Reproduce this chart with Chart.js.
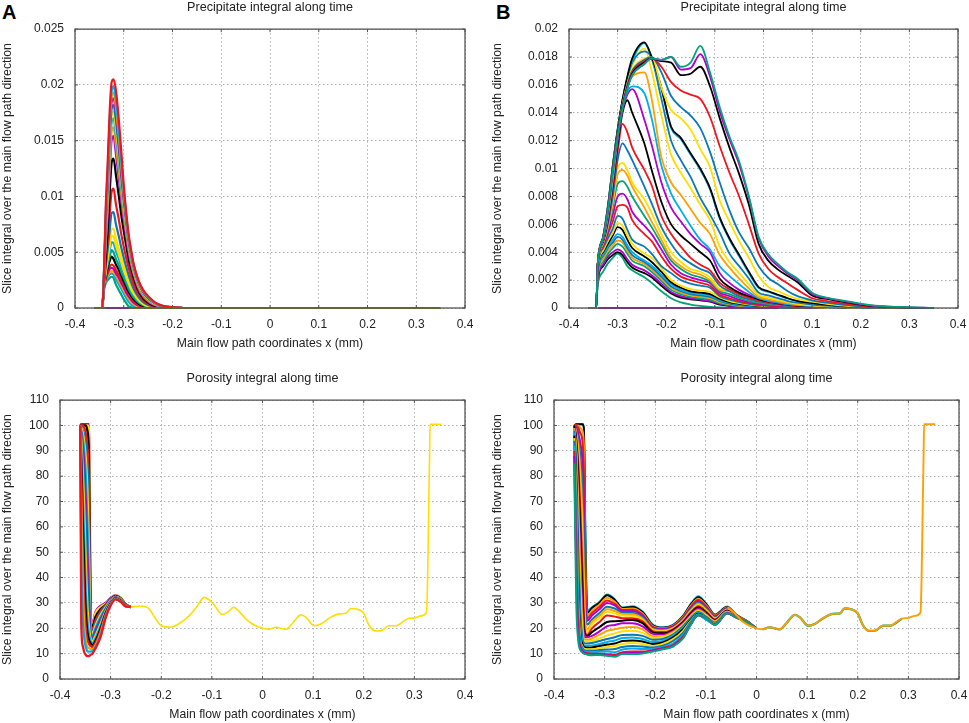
<!DOCTYPE html>
<html lang="en">
<head>
<meta charset="UTF-8">
<title>Precipitate and porosity integral along time</title>
<script src="https://cdn.jsdelivr.net/npm/chart.js@4"></script>
<style>
    html, body { margin: 0; padding: 0; background: #fff; }
    body { position: relative; width: 969px; height: 723px; overflow: hidden; }
    canvas { position: absolute; display: block; }
    .letter { position: absolute; top: 1px; font: bold 20px "Liberation Sans", sans-serif; color: #000; }
</style>
</head>
<body>
<div class="letter" style="left:2px">A</div>
<div class="letter" style="left:496px">B</div>
<canvas id="precA" width="484" height="351" style="left:0;top:0"></canvas>
<canvas id="precB" width="479" height="351" style="left:490px;top:0"></canvas>
<canvas id="poroA" width="484" height="351" style="left:0;top:371px"></canvas>
<canvas id="poroB" width="479" height="351" style="left:490px;top:371px"></canvas>
<script>
// axis ticks
const xTicks = [-0.4, -0.3, -0.2, -0.1, 0, 0.1, 0.2, 0.3, 0.4];
const yTicksPrecA = [0, 0.005, 0.01, 0.015, 0.02, 0.025];
const yTicksPrecB = [0, 0.002, 0.004, 0.006, 0.008, 0.01, 0.012, 0.014, 0.016, 0.018, 0.02];
const yTicksPoro = [0, 10, 20, 30, 40, 50, 60, 70, 80, 90, 100, 110];

// precipitate values are written in thousandths
const milli = 0.001;

// panel A, precipitate
const xPrecA = [-0.36, -0.344, -0.341, -0.337, -0.333, -0.329, -0.325, -0.321, -0.316, -0.31, -0.305, -0.3, -0.295, -0.29, -0.285, -0.28, -0.27, -0.26, -0.25, -0.24, -0.23, -0.22, -0.2, -0.18];
const pa01 = [0, 0, 1.5, 2.2, 2.5, 2.7, 2.8, 2.7, 2.1, 1.6, 1.2, 0.8, 0.45, 0.15, 0.06, 0];
const pa02 = [0, 0, 1.6, 2.4, 2.8, 3, 3.1, 3, 2.6, 2.1, 1.7, 1.3, 0.9, 0.55, 0.3, 0.15, 0.03, 0];
const pa03 = [0, 0, 1.6, 2.5, 2.9, 3.2, 3.3, 3.2, 2.9, 2.4, 2, 1.6, 1.2, 0.85, 0.55, 0.35, 0.12, 0.04, 0];
const pa04 = [0, 0, 1.7, 2.6, 3.1, 3.5, 3.6, 3.5, 3.1, 2.7, 2.25, 1.85, 1.4, 1.05, 0.75, 0.5, 0.22, 0.08, 0.02, 0];
const pa05 = [0, 0, 1.7, 2.7, 3.3, 3.7, 3.9, 3.8, 3.4, 2.95, 2.5, 2.1, 1.65, 1.25, 0.9, 0.65, 0.3, 0.13, 0.05, 0.01, 0];
const pa06 = [0, 0, 1.8, 2.9, 3.6, 4.2, 4.6, 4.4, 3.9, 3.4, 2.9, 2.4, 1.9, 1.45, 1.1, 0.8, 0.4, 0.18, 0.08, 0.03, 0];
const pa07 = [0, 0, 1.8, 3, 3.9, 4.6, 5.2, 5, 4.4, 3.8, 3.2, 2.7, 2.2, 1.7, 1.3, 0.95, 0.5, 0.24, 0.11, 0.05, 0.02, 0];
const pa08 = [0, 0, 1.9, 3.2, 4.2, 5.1, 5.9, 5.8, 5.1, 4.4, 3.7, 3.1, 2.5, 2, 1.5, 1.15, 0.62, 0.3, 0.14, 0.07, 0.03, 0.01, 0];
const pa09 = [0, 0, 1.9, 3.3, 4.4, 5.5, 6.5, 6.4, 5.6, 4.8, 4.1, 3.4, 2.8, 2.2, 1.7, 1.3, 0.72, 0.36, 0.17, 0.09, 0.04, 0.02, 0];
const pa10 = [0, 0, 2, 3.4, 4.7, 5.9, 7.1, 7.1, 6.2, 5.3, 4.5, 3.8, 3.1, 2.45, 1.9, 1.45, 0.82, 0.42, 0.2, 0.1, 0.05, 0.02, 0];
const pa11 = [0, 0, 2, 3.7, 5.3, 6.9, 8.5, 8.6, 7.5, 6.4, 5.4, 4.5, 3.7, 2.95, 2.3, 1.75, 1, 0.52, 0.27, 0.14, 0.07, 0.03, 0];
const pa12 = [0, 0, 2.1, 4, 6, 8.4, 10.4, 10.7, 9.3, 7.9, 6.6, 5.5, 4.5, 3.6, 2.8, 2.15, 1.25, 0.68, 0.35, 0.19, 0.09, 0.04, 0];
const pa13 = [0, 0, 2.2, 4.5, 7, 10.2, 13, 13.4, 11.9, 10, 8.3, 6.9, 5.6, 4.4, 3.5, 2.7, 1.55, 0.85, 0.47, 0.25, 0.13, 0.06, 0.01, 0];
const pa14 = [0, 0, 2.3, 5.5, 8.4, 12, 15, 15.4, 13.8, 11.6, 9.6, 7.9, 6.4, 5, 3.9, 3.05, 1.75, 1, 0.58, 0.32, 0.17, 0.08, 0.02, 0];
const pa15 = [0, 0, 2.3, 6, 9, 12.8, 15.8, 16.2, 14.6, 12.3, 10.2, 8.4, 6.8, 5.3, 4.15, 3.2, 1.9, 1.1, 0.65, 0.37, 0.2, 0.1, 0.02, 0];
const pa16 = [0, 0, 2.4, 6.4, 9.6, 13.6, 16.6, 17, 15.4, 13, 10.8, 8.9, 7.1, 5.6, 4.4, 3.4, 2.05, 1.2, 0.72, 0.42, 0.23, 0.12, 0.03, 0];
const pa17 = [0, 0, 2.4, 7, 10.2, 14.4, 17.2, 17.6, 16.1, 13.6, 11.3, 9.2, 7.4, 5.8, 4.6, 3.55, 2.15, 1.3, 0.8, 0.47, 0.25, 0.14, 0.04, 0];
const pa18 = [0, 0, 2.4, 7.4, 10.8, 15, 17.8, 18.2, 16.8, 14.2, 11.7, 9.6, 7.7, 6, 4.75, 3.7, 2.25, 1.4, 0.87, 0.52, 0.28, 0.16, 0.05, 0.01];
const pa19 = [0, 0, 2.4, 7.8, 11.4, 15.8, 18.4, 18.8, 17.5, 14.8, 12.2, 10, 8, 6.2, 4.9, 3.8, 2.35, 1.45, 0.92, 0.56, 0.3, 0.17, 0.05, 0.01];
const pa20 = [0, 0, 2.4, 8, 11.8, 16.2, 18.9, 19.3, 18, 15.3, 12.7, 10.3, 8.2, 6.3, 5, 3.9, 2.42, 1.5, 0.97, 0.6, 0.32, 0.18, 0.06, 0.01];
const pa21 = [0, 0, 2.5, 8.3, 12.2, 16.7, 19.4, 19.9, 18.6, 15.8, 13.1, 10.6, 8.4, 6.45, 5.1, 3.95, 2.46, 1.55, 1, 0.62, 0.33, 0.19, 0.06, 0.02];
const pa22 = [0, 0, 2.5, 9, 13, 17.5, 20.2, 20.5, 19.5, 16.8, 14, 11, 8.6, 6.6, 5.2, 4, 2.5, 1.6, 1.05, 0.65, 0.35, 0.2, 0.07, 0.02];
const precASeries = [pa01, pa02, pa03, pa04, pa05, pa06, pa07, pa08, pa09, pa10, pa11, pa12, pa13, pa14, pa15, pa16, pa17, pa18, pa19, pa20, pa21, pa22];

// panel B, precipitate
const xPrecB = [-0.36, -0.344, -0.341, -0.33, -0.32, -0.31, -0.3, -0.29, -0.28, -0.27, -0.245, -0.23, -0.21, -0.19, -0.17, -0.15, -0.13, -0.11, -0.09, -0.07, -0.05, -0.03, -0.01, 0.01, 0.03, 0.05, 0.07, 0.1, 0.13, 0.17, 0.22, 0.28, 0.35];
const pb01 = [0, 0, 1.6, 2.6, 3.2, 3.6, 3.9, 3.6, 3, 2.7, 2.2, 1.8, 1.2, 0.7, 0.4, 0.25, 0.15, 0.08, 0.04, 0.02, 0];
const pb02 = [0, 0, 2, 3, 3.5, 3.8, 4, 3.8, 3.3, 2.9, 2.5, 2.2, 1.6, 1.05, 0.75, 0.62, 0.55, 0.45, 0.25, 0.15, 0.08, 0.05, 0.03, 0.02, 0];
const pb03 = [0, 0, 2.1, 3.1, 3.7, 4, 4.2, 4, 3.5, 3.1, 2.7, 2.35, 1.75, 1.15, 0.85, 0.7, 0.6, 0.5, 0.3, 0.18, 0.1, 0.06, 0.04, 0.02, 0.01, 0];
const pb04 = [0, 0, 2.3, 3.3, 3.9, 4.3, 4.6, 4.4, 3.9, 3.4, 3, 2.6, 1.95, 1.3, 1, 0.8, 0.7, 0.6, 0.35, 0.22, 0.13, 0.08, 0.05, 0.03, 0.02, 0.01, 0];
const pb05 = [0, 0, 2.4, 3.5, 4.1, 4.5, 4.85, 4.7, 4.1, 3.6, 3.15, 2.75, 2.1, 1.45, 1.1, 0.9, 0.8, 0.7, 0.42, 0.27, 0.16, 0.1, 0.06, 0.04, 0.02, 0.01, 0];
const pb06 = [0, 0, 2.5, 3.7, 4.3, 4.7, 5.1, 4.9, 4.3, 3.8, 3.3, 2.9, 2.25, 1.55, 1.2, 1, 0.9, 0.8, 0.5, 0.32, 0.2, 0.13, 0.08, 0.05, 0.03, 0.02, 0.01, 0];
const pb07 = [0, 0, 2.6, 3.8, 4.4, 4.9, 5.3, 5.1, 4.5, 4, 3.4, 3.05, 2.4, 1.7, 1.3, 1.1, 1, 0.9, 0.55, 0.38, 0.25, 0.16, 0.1, 0.07, 0.05, 0.03, 0.02, 0];
const pb08 = [0, 0, 2.7, 4, 4.6, 5.2, 5.8, 5.6, 4.9, 4.3, 3.7, 3.3, 2.6, 1.85, 1.45, 1.2, 1.1, 1, 0.65, 0.42, 0.3, 0.2, 0.13, 0.1, 0.07, 0.05, 0.03, 0];
const pb09 = [0, 0, 2.8, 4.1, 4.8, 5.4, 6.1, 5.9, 5.2, 4.6, 3.9, 3.6, 2.85, 2, 1.6, 1.35, 1.25, 1.15, 0.75, 0.5, 0.35, 0.24, 0.17, 0.12, 0.09, 0.06, 0.04, 0];
const pb10 = [0, 0, 2.9, 4.3, 5, 5.7, 6.6, 6.4, 5.6, 4.9, 4.4, 3.9, 3.0, 2.5, 2, 1.75, 1.6, 1.45, 0.85, 0.6, 0.42, 0.3, 0.2, 0.15, 0.1, 0.08, 0.05, 0.03, 0];
const pb11 = [0, 0, 3, 4.4, 5.3, 6.2, 7.3, 7.4, 7.2, 6.3, 5.3, 4.8, 3.7, 2.8, 2.25, 2, 1.8, 1.6, 0.95, 0.7, 0.5, 0.35, 0.25, 0.18, 0.13, 0.1, 0.07, 0.04, 0];
const pb12 = [0, 0, 3, 4.5, 5.5, 6.7, 8, 8.2, 7.8, 6.9, 5.9, 5.3, 4.2, 3.1, 2.5, 2.2, 2, 1.8, 1.1, 0.85, 0.6, 0.42, 0.3, 0.22, 0.17, 0.12, 0.08, 0.05, 0];
const pb13 = [0, 0, 3, 4.6, 5.7, 7.2, 8.9, 9.1, 8.7, 8, 6.6, 5.8, 4.6, 3.4, 2.8, 2.4, 2.2, 1.9, 1.2, 1, 0.72, 0.5, 0.36, 0.27, 0.2, 0.15, 0.1, 0.06, 0];
const pb14 = [0, 0, 3, 4.6, 5.8, 7.5, 9.6, 9.9, 9.5, 8.7, 7.2, 6.2, 4.9, 3.6, 3, 2.6, 2.4, 2, 1.3, 1.2, 0.85, 0.6, 0.45, 0.33, 0.25, 0.18, 0.12, 0.07, 0];
const pb15 = [0, 0, 3, 4.7, 5.9, 7.7, 10, 10.4, 9.9, 9, 7.8, 6.8, 5.3, 4, 3.3, 2.8, 2.6, 2.2, 1.4, 1.3, 1, 0.7, 0.52, 0.38, 0.28, 0.2, 0.14, 0.08, 0];
const pb16 = [0, 0, 3.1, 4.7, 6, 8, 10.6, 11.8, 11.3, 10.6, 8.7, 7.5, 5.8, 4.6, 3.7, 3.2, 2.8, 2.5, 1.6, 1.2, 0.85, 0.62, 0.45, 0.33, 0.25, 0.15, 0.09, 0];
const pb17 = [0, 0, 3.1, 4.8, 6.2, 8.4, 11.2, 13.2, 12.6, 11.5, 9.9, 8.8, 6.6, 5.3, 4.4, 3.6, 3.1, 2.7, 1.8, 1.35, 1, 0.75, 0.55, 0.4, 0.3, 0.2, 0.1, 0];
const pb18 = [0, 0, 3.1, 4.8, 6.3, 8.8, 11.7, 14, 14.9, 14, 11.8, 9.9, 7.6, 6, 5.2, 4.6, 4, 3.4, 2.1, 1.5, 1.1, 0.85, 0.62, 0.45, 0.33, 0.25, 0.17, 0.11, 0.06, 0];
const pb19 = [0, 0, 3.1, 4.8, 6.4, 9, 12, 14.2, 15.3, 15.7, 13.5, 11.7, 9, 7.2, 6.2, 5.3, 4.6, 4, 2.5, 1.8, 1.3, 0.95, 0.7, 0.5, 0.37, 0.28, 0.2, 0.15, 0.1, 0.05, 0];
const pb20 = [0, 0, 3.1, 4.9, 6.6, 9.2, 12.2, 14.4, 15.5, 15.9, 15.4, 13.6, 10.2, 8.2, 7, 5.9, 4.9, 4.2, 3, 2.3, 1.7, 1.15, 0.7, 0.52, 0.4, 0.28, 0.2, 0.14, 0.09, 0.04, 0];
const pb21 = [0, 0, 3.1, 4.9, 6.8, 9.5, 12.4, 14.6, 16, 16.6, 16.9, 15, 10.8, 9, 8.1, 7.1, 6.1, 5.3, 3.8, 2.9, 2.1, 1.4, 0.8, 0.62, 0.48, 0.35, 0.25, 0.17, 0.11, 0.05, 0];
const pb22 = [0, 0, 3.1, 5, 7, 9.9, 12.6, 14.8, 16.3, 17.4, 18.6, 17, 13.8, 11, 9.7, 8.6, 7.4, 6.3, 4.4, 3.3, 2.5, 1.7, 0.95, 0.75, 0.58, 0.42, 0.3, 0.2, 0.13, 0.06, 0];
const pb23 = [0, 0, 3.1, 5, 7.2, 10.1, 12.7, 14.9, 16.5, 17.6, 18.4, 17.9, 15, 12, 10.6, 9.4, 7.9, 6.7, 5.4, 3.9, 3, 2.1, 1.1, 0.9, 0.7, 0.5, 0.38, 0.25, 0.17, 0.09, 0.01, 0];
const pb24 = [0, 0, 3.1, 5, 7.3, 10.2, 12.8, 14.9, 16.5, 17.7, 19, 17.9, 15.7, 12.9, 12.1, 11, 9.9, 8.5, 6.4, 4.9, 3.7, 2.5, 1.45, 1.15, 0.9, 0.68, 0.48, 0.33, 0.2, 0.1, 0.03, 0];
const pb25 = [0, 0, 3.1, 5.1, 7.3, 10.2, 12.8, 14.9, 16.6, 17.9, 19.05, 18, 15.8, 13, 12.2, 11.1, 10, 8.6, 6.5, 5, 3.8, 2.6, 1.5, 1.2, 0.95, 0.7, 0.5, 0.35, 0.22, 0.12, 0.04, 0];
const pb26 = [0, 0, 3.1, 5, 7.1, 10, 12.5, 14.6, 16.1, 17.1, 17.9, 18, 15.8, 14.2, 13.6, 12.8, 11.4, 10.1, 7.7, 6.2, 4.8, 3.6, 2.3, 1.5, 1.2, 0.9, 0.65, 0.45, 0.3, 0.15, 0.05, 0];
const pb27 = [0, 0, 3.1, 5, 7.1, 10, 12.5, 14.5, 16, 17, 17.8, 18, 16.9, 15.2, 14.4, 13.8, 12.9, 11.2, 9, 7, 5.4, 4.3, 3, 2.15, 1.7, 1.2, 0.85, 0.55, 0.38, 0.2, 0.06, 0.02, 0];
const pb28 = [0, 0, 3.1, 5, 7, 9.9, 12.4, 14.4, 15.9, 16.9, 17.7, 17.9, 17.3, 16.2, 15.6, 15.3, 15, 13.7, 11.6, 9.7, 8, 6, 3.9, 2.8, 2.2, 1.75, 1.3, 0.7, 0.5, 0.3, 0.1, 0.03, 0];
const pb29 = [0, 0, 3.1, 5, 7, 9.9, 12.4, 14.4, 15.8, 16.8, 17.6, 17.9, 17.7, 17.6, 16.7, 16.8, 17.3, 15.9, 13.6, 11.5, 9.6, 7.4, 4.6, 3.4, 2.75, 2.3, 1.85, 0.9, 0.65, 0.4, 0.15, 0.05, 0];
const pb30 = [0, 0, 3.1, 5, 7, 9.8, 12.3, 14.3, 15.8, 16.7, 17.5, 17.9, 17.8, 18, 17.1, 17.2, 18.2, 16.6, 14.1, 12.1, 10.3, 7.9, 5, 3.7, 3, 2.45, 2, 1, 0.7, 0.45, 0.18, 0.06, 0];
const pb31 = [0, 0, 3.1, 5, 7, 9.8, 12.3, 14.3, 15.7, 16.7, 17.5, 17.9, 17.8, 18, 17.3, 17.6, 18.8, 16.9, 14.4, 12.3, 10.5, 8, 5.1, 3.85, 3.15, 2.55, 2.1, 1.1, 0.75, 0.5, 0.2, 0.07, 0];
const precBSeries = [pb01, pb02, pb03, pb04, pb05, pb06, pb07, pb08, pb09, pb10, pb11, pb12, pb13, pb14, pb15, pb16, pb17, pb18, pb19, pb20, pb21, pb22, pb23, pb24, pb25, pb26, pb27, pb28, pb29, pb30, pb31];

// shared right hand part of the porosity curves
const xPoroTail = [-0.26, -0.242, -0.225, -0.212, -0.2, -0.182, -0.169, -0.143, -0.13, -0.115, -0.097, -0.08, -0.067, -0.057, -0.043, -0.027, 0, 0.013, 0.026, 0.046, 0.059, 0.076, 0.086, 0.102, 0.115, 0.132, 0.151, 0.165, 0.174, 0.187, 0.2, 0.21, 0.222, 0.233, 0.25, 0.263, 0.287, 0.3, 0.313, 0.324, 0.326, 0.328, 0.33, 0.331, 0.353];
const yPoroTail = [28.4, 28.8, 27.9, 24, 21, 20.4, 21.3, 25.3, 28.5, 32.2, 29.6, 25.5, 26.6, 28.3, 25.9, 22.6, 20, 19.6, 20.4, 19.6, 22, 25.3, 24.3, 21, 21.7, 24, 25.7, 25.9, 27.8, 27.5, 25.9, 21.3, 19, 19, 21, 21, 23.8, 24.1, 24.9, 26.3, 39, 63.4, 87.8, 100.5, 100.5];

// panel A, porosity
const xPoroA = [-0.36, -0.358, -0.355, -0.352, -0.349, -0.346, -0.343, -0.341, -0.339, -0.336, -0.33, -0.32, -0.31, -0.3, -0.29, -0.28, -0.27, -0.26];
const ra01 = [100, 100.5, 100.5, 100.5, 100.5, 100.5, 100.5, 62, 24, 21.5, 26.5, 28.8, 30, 32, 33.1, 32, 29.5, 28.4];
const ra02 = [100, 100, 100, 100, 100, 100, 99, 60, 23, 21, 26, 28.4, 29.6, 31.8, 33, 32, 29.4, 28.4];
const ra03 = [100, 100, 100, 100, 100, 98, 90, 52, 22, 20.5, 24.5, 27.5, 29.2, 31.6, 32.8, 31.8, 29.3, 28.4];
const ra04 = [100, 100, 100, 99, 97, 92, 78, 44, 21, 19.5, 23, 26.8, 29, 31.4, 32.6, 31.7, 29.2, 28.4];
const ra05 = [100, 99.5, 98, 96, 92, 85, 65, 38, 20, 18.5, 22, 26, 28.6, 31.2, 32.5, 31.6, 29.2, 28.4];
const ra06 = [100, 99, 97, 93, 87, 75, 52, 32, 19, 18, 21, 25.2, 28.2, 31, 32.4, 31.5, 29.1, 28.4];
const ra07 = [100, 98, 95, 89, 80, 62, 40, 26, 18, 17, 20, 24.3, 27.8, 30.8, 32.3, 31.4, 29.1, 28.4];
const ra08 = [100, 97, 92, 84, 70, 50, 32, 22, 17, 16.3, 19, 23.5, 27.4, 30.6, 32.2, 31.3, 29, 28.4];
const ra09 = [100, 96, 88, 76, 58, 38, 25, 19, 16.3, 15.6, 18, 22.6, 27, 30.4, 32.1, 31.2, 29, 28.4];
const ra10 = [100, 94, 82, 66, 45, 29, 21, 17.5, 15.5, 14.8, 17, 21.6, 26.6, 30.2, 32, 31.1, 29, 28.4];
const ra11 = [100, 90, 74, 54, 34, 23, 18, 16, 14.7, 14, 16, 20.7, 26.2, 30, 31.9, 31, 28.9, 28.4];
const ra12 = [100, 85, 62, 42, 26, 18.5, 15.5, 14.5, 13.8, 13.3, 15, 19.8, 25.8, 29.8, 31.8, 30.9, 28.9, 28.4];
const ra13 = [100, 78, 50, 30, 20, 15.5, 14, 13.3, 13, 12.6, 14.2, 19, 25.3, 29.6, 31.7, 30.8, 28.8, 28.4];
const ra14 = [100, 68, 36, 21, 15, 12.7, 12.2, 12, 11.8, 11.8, 13.2, 18, 24.8, 29.4, 31.6, 30.6, 28.7, 28.4];
const ra15 = [100, 50, 24, 16, 12.5, 11, 10.8, 10.8, 10.9, 11, 12.6, 17.2, 24.4, 29.2, 31.5, 30.5, 28.6, 28.4];
const ra16 = [100, 22, 13, 10.5, 9.5, 9, 9, 9.3, 9.6, 10, 12, 16.5, 24, 29, 31.4, 30.4, 28.6, 28.4];
const poroASeries = [ra01, ra02, ra03, ra04, ra05, ra06, ra07, ra08, ra09, ra10, ra11, ra12, ra13, ra14, ra15, ra16];

// panel B, porosity
const xPoroB = [-0.36, -0.356, -0.352, -0.348, -0.344, -0.341, -0.338, -0.334, -0.325, -0.31, -0.295, -0.28, -0.265, -0.245, -0.225, -0.205, -0.185, -0.165, -0.145, -0.13, -0.115, -0.098, -0.082, -0.058, -0.04, -0.02, 0];
const rb01 = [100, 100.5, 100.5, 100.5, 100.5, 100.5, 60, 27, 28.3, 30.5, 33.3, 31.5, 28.2, 28.7, 26.6, 21.5, 20.4, 21.4, 25, 29.5, 32.6, 29.4, 25.5, 28.6, 25.4, 23, 20];
const rb02 = [100, 100.5, 100.5, 100.5, 100.5, 99, 52, 26, 28, 30.1, 33, 31.2, 28, 28.4, 26.3, 21.2, 20.2, 21.2, 24.8, 29.3, 32.2, 29.1, 25.3, 28.4, 25.3, 23, 20];
const rb03 = [100, 100, 100, 99, 98, 92, 44, 25, 27, 29.4, 32, 30.4, 27.6, 27.8, 25.8, 20.9, 20, 21, 24.5, 28.8, 31.7, 28.7, 25, 28.2, 25.2, 22.9, 20];
const rb04 = [100, 100, 99, 97, 94, 82, 36, 24, 26, 28.5, 31, 29.6, 27.2, 27.3, 25.3, 20.6, 19.8, 20.8, 24.2, 28.3, 31.2, 28.3, 24.8, 28, 25.1, 22.8, 20];
const rb05 = [100, 99, 97, 93, 86, 68, 30, 23, 25, 27.5, 30, 29, 26.8, 26.8, 24.9, 20.3, 19.6, 20.6, 23.9, 27.9, 30.7, 27.9, 24.5, 27.8, 25, 22.8, 20];
const rb06 = [100, 98, 95, 88, 76, 54, 26, 21.5, 23.5, 26, 28.5, 27.8, 26.2, 26.1, 24.3, 20, 19.3, 20.3, 23.6, 27.4, 30.2, 27.5, 24.3, 27.6, 24.9, 22.7, 20];
const rb07 = [100, 97, 92, 82, 65, 42, 22, 19.5, 22.5, 25, 27.5, 26.8, 25.6, 25.5, 23.8, 19.6, 19.1, 20.1, 23.3, 27, 29.7, 27.1, 24, 27.4, 24.8, 22.7, 20];
const rb08 = [100, 96, 89, 76, 56, 32, 20, 18.5, 21.5, 24, 26.5, 25.8, 25, 24.9, 23.3, 19.3, 18.8, 19.9, 23, 26.6, 29.2, 26.7, 23.8, 27.2, 24.7, 22.6, 20];
const rb09 = [100, 95, 85, 68, 46, 25, 18, 17.5, 20, 22.5, 25, 24.6, 24, 24, 22.7, 18.9, 18.5, 19.6, 22.7, 26.2, 28.7, 26.3, 23.5, 27, 24.6, 22.6, 20];
const rb10 = [100, 94, 80, 58, 36, 21, 17.5, 17, 18.5, 20.5, 22.5, 22.8, 23, 23.3, 22, 18.4, 18, 19.3, 22.4, 25.8, 28.2, 25.9, 23.2, 26.9, 24.6, 22.6, 20];
const rb11 = [99, 92, 74, 50, 28, 18, 16.5, 16.5, 17, 18.8, 20.8, 21.3, 22, 22, 20.8, 17.8, 17.5, 18.9, 22, 25.3, 27.7, 25.5, 23, 26.7, 24.5, 22.5, 20];
const rb12 = [99, 90, 68, 42, 23, 16, 15.5, 15.5, 16, 17.5, 19, 19.6, 20.2, 20.5, 19.6, 17, 17, 18.5, 21.6, 24.9, 27.2, 25.1, 22.8, 26.5, 24.5, 22.5, 20];
const rb13 = [98, 88, 60, 34, 19, 15, 14.8, 14.8, 15, 16, 17.2, 18, 18.8, 19, 18.2, 16.2, 16.5, 18, 21.2, 24.5, 26.8, 24.7, 22.5, 26.4, 24.4, 22.5, 20];
const rb14 = [98, 85, 52, 27, 16.5, 14.2, 14, 14, 14.2, 15, 15.8, 16.5, 17.4, 17.5, 17, 15.5, 15.8, 17.5, 20.8, 24.1, 26.4, 24.4, 22.3, 26.2, 24.4, 22.5, 20];
const rb15 = [97, 82, 44, 22, 15, 13.3, 13, 13, 13.2, 13.8, 14.6, 15.2, 16.2, 16.4, 15.8, 14.6, 15, 17, 20.2, 23.7, 26, 24, 22.1, 26.1, 24.3, 22.4, 20];
const rb16 = [96, 78, 38, 18, 14, 12.6, 12.4, 12.3, 12.4, 13, 13.6, 14, 15, 15.2, 14.8, 13.8, 14.4, 16.4, 19.6, 23.3, 25.7, 23.7, 21.9, 26, 24.3, 22.4, 20];
const rb17 = [95, 72, 32, 16, 13, 12, 11.8, 11.7, 11.7, 12.2, 12.6, 13, 13.8, 14.2, 13.8, 13, 13.8, 15.7, 19, 22.9, 25.4, 23.4, 21.8, 26, 24.3, 22.4, 20];
const rb18 = [94, 65, 27, 15, 12.4, 11.5, 11.2, 11.1, 11.1, 11.4, 11.6, 11.8, 12.6, 13, 12.8, 12.4, 13.1, 15, 18.2, 22.5, 25.2, 23.3, 21.7, 25.9, 24.3, 22.4, 20];
const rb19 = [92, 58, 22, 14, 11.8, 11, 10.7, 10.6, 10.5, 10.7, 10.8, 10.6, 11.6, 12, 11.8, 11.9, 12.6, 14, 17.4, 22, 25, 23.2, 21.6, 25.9, 24.3, 22.4, 20];
const rb20 = [90, 48, 19, 13, 11.2, 10.6, 10.4, 10.2, 10, 10, 9.8, 9.6, 10.6, 10.8, 10.8, 11.4, 12.2, 13.4, 16.8, 21.6, 25.1, 24, 21.4, 25.9, 24.3, 22.4, 20];
const rb21 = [88, 40, 17, 12.4, 10.9, 10.3, 10.1, 9.9, 9.6, 9.7, 9.4, 9.1, 10.2, 10.3, 10.4, 11.1, 12, 13, 16.4, 21.4, 25.2, 24, 21.4, 25.9, 24.3, 22.4, 20];
const rb22 = [85, 30, 15, 11.5, 10.5, 10, 9.8, 9.6, 9.4, 9.5, 9.2, 8.8, 9.9, 9.9, 10.1, 10.8, 11.7, 12.8, 16, 21.3, 25.3, 24, 21.3, 25.9, 24.3, 22.4, 20];
const poroBSeries = [rb01, rb02, rb03, rb04, rb05, rb06, rb07, rb08, rb09, rb10, rb11, rb12, rb13, rb14, rb15, rb16, rb17, rb18, rb19, rb20, rb21, rb22];

// line colours, in drawing order
const green = '#00a47a', purple = '#b000cc', sky = '#00aee6', orange = '#ff9f00',
      yellow = '#ffdf00', blue = '#0a78b8', red = '#f0141c', black = '#000000', olive = '#808000';
const precAColors = [green, sky, orange, purple, red, black, green, sky, yellow, yellow, blue, red, black, purple, orange, sky, yellow, blue, purple, orange, sky, red];
const precBColors = [green, black, purple, green, orange, blue, sky, black, yellow, blue, red, purple, green, orange, yellow, blue, red, black, purple, sky, orange, yellow, blue, sky, black, yellow, blue, red, black, purple, green];
const poroAColors = [purple, yellow, black, red, blue, yellow, sky, purple, blue, yellow, sky, black, red, orange, sky, red];
const poroBColors = [sky, black, orange, red, purple, blue, orange, yellow, red, black, purple, orange, yellow, blue, sky, black, yellow, blue, sky, red, purple, green];

Chart.defaults.font.family = '"Liberation Sans", Arial, sans-serif';
Chart.defaults.font.size = 12;
Chart.defaults.color = '#222';

function lineSet(xs, values, color, width, factor) {
    return {
        data: values.map((v, i) => ({ x: xs[i], y: v * (factor || 1) })),
        borderColor: color,
        borderWidth: width,
        pointRadius: 0,
        cubicInterpolationMode: 'monotone',
        clip: false
    };
}

// gnuplot style box with small inward ticks
const framePlugin = {
    id: 'frame',
    afterDraw(chart) {
        const { ctx, chartArea: a, scales } = chart;
        ctx.save();
        ctx.strokeStyle = '#555';
        ctx.lineWidth = 1.3;
        ctx.strokeRect(a.left, a.top, a.width, a.height);
        ctx.lineWidth = 1;
        ctx.beginPath();
        scales.x.ticks.forEach(t => {
            const px = scales.x.getPixelForValue(t.value);
            ctx.moveTo(px, a.bottom); ctx.lineTo(px, a.bottom - 3);
            ctx.moveTo(px, a.top); ctx.lineTo(px, a.top + 3);
        });
        scales.y.ticks.forEach(t => {
            const py = scales.y.getPixelForValue(t.value);
            ctx.moveTo(a.left, py); ctx.lineTo(a.left + 3, py);
            ctx.moveTo(a.right, py); ctx.lineTo(a.right - 3, py);
        });
        ctx.stroke();
        ctx.restore();
    }
};

function drawPanel(id, title, yTicks, yWidth, rightPad, datasets) {
    new Chart(document.getElementById(id), {
        type: 'line',
        // Chart.js paints the first dataset last, the lists here are in painting order
        data: { datasets: datasets.slice().reverse() },
        plugins: [framePlugin],
        options: {
            responsive: false,
            animation: false,
            layout: { padding: { right: rightPad } },
            plugins: {
                legend: { display: false },
                tooltip: { enabled: false },
                title: {
                    display: true,
                    text: title,
                    fullSize: false,
                    color: '#222',
                    font: { size: 12.6, weight: 'normal' },
                    padding: { top: 0, bottom: 14 }
                }
            },
            scales: {
                x: {
                    type: 'linear',
                    min: xTicks[0],
                    max: xTicks[xTicks.length - 1],
                    afterBuildTicks: s => { s.ticks = xTicks.map(v => ({ value: v })); },
                    afterFit: s => { s.height = 43; s.paddingRight = 0; s.paddingLeft = 0; },
                    grid: { color: '#b0b0b0', drawTicks: false },
                    border: { display: false, dash: [1.5, 2.5] },
                    ticks: { padding: 9, maxRotation: 0, autoSkip: false, callback: v => String(v) },
                    title: { display: true, text: 'Main flow path coordinates x (mm)', padding: 0, font: { size: 12.2 } }
                },
                y: {
                    min: yTicks[0],
                    max: yTicks[yTicks.length - 1],
                    afterBuildTicks: s => { s.ticks = yTicks.map(v => ({ value: v })); },
                    afterFit: s => { s.width = yWidth; },
                    grid: { color: '#b0b0b0', drawTicks: false },
                    border: { display: false, dash: [1.5, 2.5] },
                    ticks: { padding: 11, autoSkip: false, callback: v => String(v) },
                    title: { display: true, text: 'Slice integral over the main flow path direction', padding: 0, font: { size: 12.3 } }
                }
            }
        }
    });
}

// flat lines along zero
const xZeroA = [-0.36, 0.35], zeroA = [0, 0];
const xZeroB = [-0.36, -0.344], zeroB = [0, 0];
const xZeroPurpleA = [-0.337, -0.29], xZeroPurpleB = [-0.34, 0.03], zeroPurple = [0, 0];

const precAData = precASeries.map((s, i) => lineSet(xPrecA, s, precAColors[i], 2.2, milli));
precAData.push(lineSet(xZeroA, zeroA, olive, 2), lineSet(xZeroPurpleA, zeroPurple, purple, 2));
drawPanel('precA', 'Precipitate integral along time', yTicksPrecA, 75, 19, precAData);

const precBData = precBSeries.map((s, i) => lineSet(xPrecB, s, precBColors[i], 1.8, milli));
precBData.push(lineSet(xZeroB, zeroB, '#808070', 2), lineSet(xZeroPurpleB, zeroPurple, purple, 2));
drawPanel('precB', 'Precipitate integral along time', yTicksPrecB, 79, 11, precBData);

const poroAData = poroASeries.map((s, i) => lineSet(xPoroA, s, poroAColors[i], 2.3));
poroAData.push(lineSet(xPoroTail, yPoroTail, yellow, 1.6));
drawPanel('poroA', 'Porosity integral along time', yTicksPoro, 60, 19, poroAData);

const poroBData = poroBSeries.map((s, i) => lineSet(xPoroB, s, poroBColors[i], 2));
poroBData.push(lineSet(xPoroTail.slice(17, 37), yPoroTail.slice(17, 37), green, 2.3));
poroBData.push(lineSet(xPoroTail.slice(13), yPoroTail.slice(13), orange, 1.9));
drawPanel('poroB', 'Porosity integral along time', yTicksPoro, 64, 10, poroBData);
</script>
</body>
</html>
